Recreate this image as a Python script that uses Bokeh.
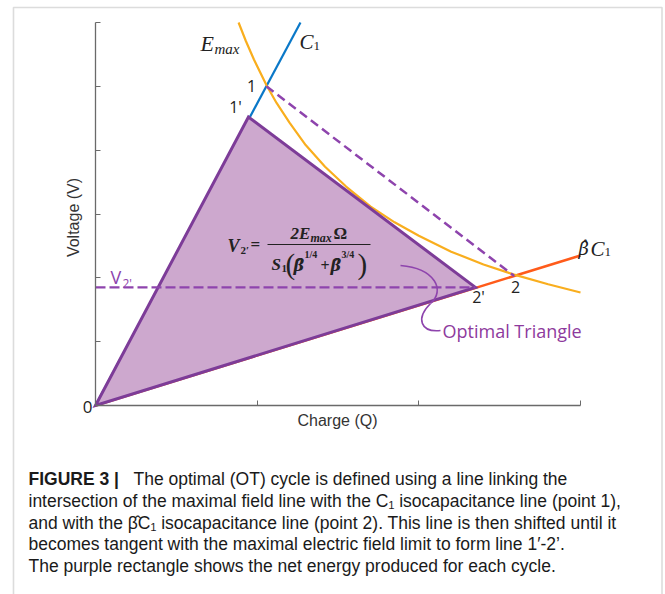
from math import pi
from bokeh.plotting import figure
from bokeh.models import Range1d, FixedTicker, Label, PolyAnnotation, CustomLabelingPolicy
from bokeh.embed import file_html
from bokeh.resources import INLINE

# ---- data ----
x_ticks = [0, 1, 2, 3]
y_ticks = [0, 1, 2, 3, 4, 5, 6]

c1_q = [0.0, 1.268]
c1_v = [0.0, 6.0]

bc1_q = [0.0, 3.0]
bc1_v = [0.0, 2.35]

emax_q = [0.885, 0.93, 0.98, 1.057, 1.12, 1.2, 1.3, 1.42, 1.55, 1.7, 1.85, 2.0, 2.2, 2.4, 2.59, 2.8, 3.0]
emax_v = [6.0, 5.71, 5.42, 5.02, 4.74, 4.43, 4.08, 3.74, 3.43, 3.12, 2.87, 2.66, 2.41, 2.21, 2.05, 1.90, 1.77]

tri_q = [0.0, 0.946, 2.35]
tri_v = [0.0, 4.52, 1.85]

pt1 = [1.057, 5.0]
pt2 = [2.59, 2.03]
v2p = 1.85

caption_lines = [
    "The optimal (OT) cycle is defined using a line linking the",
    "intersection of the maximal field line with the C\u2081 isocapacitance line (point 1),",
    "and with the \u03b2\u0302C\u2081 isocapacitance line (point 2). This line is then shifted until it",
    "becomes tangent with the maximal electric field limit to form line 1\u2032-2\u2019.",
    "The purple rectangle shows the net energy produced for each cycle.",
]

# ---- colours ----
BLUE = "#0A78C8"
ORANGE = "#F9AE1E"
ORED = "#FF5B1A"
PURPLE = "#7D3C98"
DPURP = "#8E44AD"
FILL = "#CDA8CE"

W, H = 665, 594
# page pixel -> data: x = (px - 95) / 161.667 ; y = (405 - py) / 63.833
SX, SY = 161.667, 63.833
p = figure(width=W, height=H,
           x_range=Range1d((0 - 95) / SX, (W - 95) / SX),
           y_range=Range1d((405 - H) / SY, (405 - 0) / SY),
           output_backend="svg", toolbar_location=None,
           min_border=0, min_border_left=0, min_border_right=0,
           min_border_top=0, min_border_bottom=0)
p.xgrid.visible = False
p.ygrid.visible = False
p.outline_line_color = None
p.background_fill_color = "white"
p.border_fill_color = "white"

for ax, ticks, bnd in ((p.xaxis[0], x_ticks, (0, 3)), (p.yaxis[0], y_ticks, (0, 6))):
    ax.ticker = FixedTicker(ticks=ticks)
    ax.fixed_location = 0
    ax.bounds = bnd
    ax.major_tick_in = 5
    ax.major_tick_out = 0
    ax.minor_tick_line_color = None
    ax.major_label_policy = CustomLabelingPolicy(code="return []")
    ax.major_label_standoff = 0
    ax.axis_line_color = "#6a6a6a"
    ax.major_tick_line_color = "#6a6a6a"
    ax.axis_line_width = 1.3


def px(x):
    return (x - 95) / SX


def py(y):
    return (405 - y) / SY


def lab(x, y, t, size, font="Open Sans", style="normal", color="#222222",
        align="left", baseline="middle", angle=0.0):
    # x, y given in page pixels of the reference, converted to data units
    p.add_layout(Label(x=px(x), y=py(y), text=t, text_font=font, text_font_size=size,
                       text_font_style=style, text_color=color, text_align=align,
                       text_baseline=baseline, angle=angle))


# outer frame
p.add_layout(PolyAnnotation(xs=[px(13), px(13), px(661.5), px(661.5)],
                            ys=[py(610), py(7), py(7), py(610)],
                            fill_color=None, line_color="#8c8c8c", line_width=1.6))

# curves
p.line(bc1_q, bc1_v, line_color=ORED, line_width=2.5)
p.line(c1_q, c1_v, line_color=BLUE, line_width=2.2)
p.line(emax_q, emax_v, line_color=ORANGE, line_width=2.2)
p.patch(tri_q, tri_v, fill_color=FILL, line_color=PURPLE, line_width=3, line_join="miter")

p.line([pt1[0], pt2[0]], [pt1[1], pt2[1]], line_color=DPURP, line_width=2.5, line_dash="9 5")
p.line([0, tri_q[2]], [v2p, v2p], line_color=DPURP, line_width=2.2, line_dash="10 4")

# leader curve
p.bezier(x0=[px(400), px(430)], y0=[py(265), py(303)], x1=[px(430), px(440)], y1=[py(303), py(330)],
         cx0=[px(435), px(415)], cy0=[py(268), py(318)], cx1=[px(445), px(420)], cy1=[py(290), py(332)],
         line_color=DPURP, line_width=1.6)

# fraction bar
p.segment(x0=[px(267)], y0=[py(244)], x1=[px(370)], y1=[py(244)], line_color="#222222", line_width=1.2)

# axis titles
lab(73, 217, "Voltage (V)", "16px", font="Liberation Sans", color="#333333", align="center", angle=pi / 2)
lab(337, 420, "Charge (Q)", "16px", font="Liberation Sans", color="#333333", align="center")

SERIF = "Liberation Serif"
HAT = "DejaVu Serif"
# point labels
lab(251, 85, "1", "16px", align="center")
lab(235, 106, "1'", "16px", align="center")
lab(515, 286, "2", "16px", align="center")
lab(478, 296, "2'", "16px", align="center")
lab(87, 406, "0", "17px", align="center")

# curve names
lab(200, 43, "E", "22px", font=SERIF, style="italic")
lab(214, 48, "max", "15px", font=SERIF, style="italic")
lab(299, 41, "C", "21px", font=SERIF, style="italic")
lab(313, 45.5, "1", "13px", font=SERIF)
lab(578, 248, "\u03b2\u0302", "18px", font=HAT, style="italic")
lab(590, 248, "C", "21px", font=SERIF, style="italic")
lab(604, 251.5, "1", "13px", font=SERIF)

# V2' marker
lab(110, 276, "V", "18px", color=DPURP)
lab(122, 283, "2'", "12px", color=DPURP)

lab(442, 330, "Optimal Triangle", "18px", color="#8E3A9D")

# formula
lab(227, 245, "V", "18px", font=SERIF, style="bold italic")
lab(240, 249, "2\u2032", "11px", font=SERIF, style="bold")
lab(250, 244, "=", "17px", font=SERIF, style="bold")
lab(290, 233, "2E", "17px", font=SERIF, style="bold italic")
lab(310, 237, "max", "12px", font=SERIF, style="bold italic")
lab(333, 233, "\u03a9", "17px", font=SERIF, style="bold")
lab(271, 264, "S", "17px", font=SERIF, style="bold italic")
lab(281, 268, "1", "11px", font=SERIF, style="bold")
lab(285, 263, "(", "29px", font=SERIF)
lab(293, 265, "\u03b2\u0302", "16px", font=HAT, style="bold italic")
lab(304, 254, "1/4", "10px", font=SERIF, style="bold")
lab(320, 265, "+", "16px", font=SERIF, style="bold")
lab(330, 265, "\u03b2\u0302", "16px", font=HAT, style="bold italic")
lab(341, 254, "3/4", "10px", font=SERIF, style="bold")
lab(357, 263, ")", "29px", font=SERIF)

# caption (baselines read at 478, 500, 522, 543, 565)
CAP = "Liberation Sans"
CS = "17.5px"
cap_base = [478, 500, 522, 543, 565]
lab(28, cap_base[0], "FIGURE 3 |", CS, font=CAP, style="bold", color="#1a1a1a", baseline="alphabetic")
lab(133, cap_base[0], caption_lines[0], CS, font=CAP, color="#1a1a1a", baseline="alphabetic")
for t, yy in zip(caption_lines[1:], cap_base[1:]):
    lab(28, yy, t, CS, font=CAP, color="#1a1a1a", baseline="alphabetic")

open("out.html", "w").write(file_html(p, INLINE))
